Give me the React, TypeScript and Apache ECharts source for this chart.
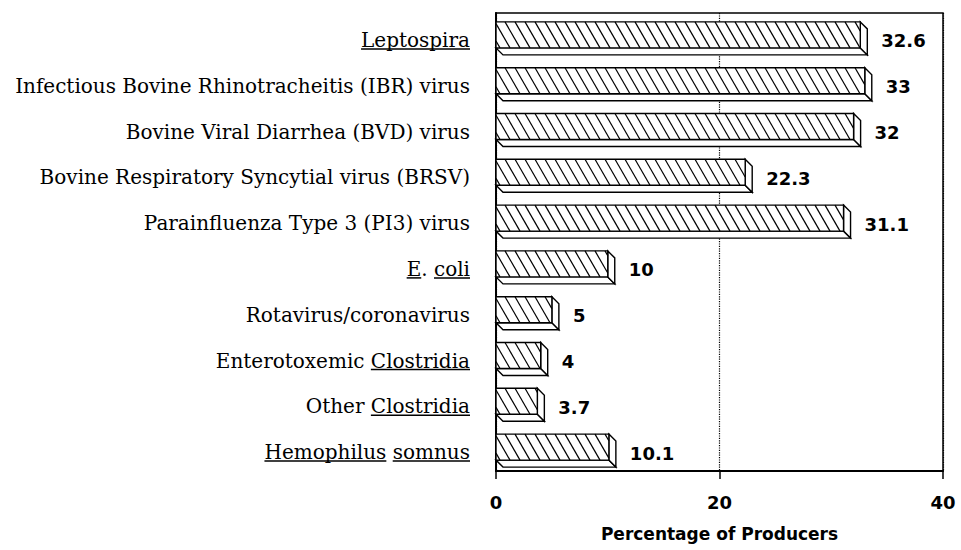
import React, { useEffect, useRef } from "react";
import * as echarts from "echarts";

const categories = [
  "Leptospira",
  "Infectious Bovine Rhinotracheitis (IBR) virus",
  "Bovine Viral Diarrhea (BVD) virus",
  "Bovine Respiratory Syncytial virus (BRSV)",
  "Parainfluenza Type 3 (PI3) virus",
  "E. coli",
  "Rotavirus/coronavirus",
  "Enterotoxemic Clostridia",
  "Other Clostridia",
  "Hemophilus somnus",
];
const values = [32.6, 33, 32, 22.3, 31.1, 10, 5, 4, 3.7, 10.1];
const underlinedWords: string[][] = [
  ["Leptospira"],
  [],
  [],
  [],
  [],
  ["E", "coli"],
  [],
  ["Clostridia"],
  ["Clostridia"],
  ["Hemophilus", "somnus"],
];
const xMin = 0;
const xMax = 40;
const xInterval = 20;
const xTitle = "Percentage of Producers";

const LABEL_FONT_SIZE = 20;
const LABEL_FONT_FAMILY = '"DejaVu Serif"';
const LABEL_MARGIN = 26;
const LABEL_SHIFT = 4;

let measureCtx: CanvasRenderingContext2D | null = null;
function measure(text: string): number {
  if (!measureCtx) {
    const c = document.createElement("canvas");
    measureCtx = c.getContext("2d");
  }
  if (!measureCtx) return text.length * LABEL_FONT_SIZE * 0.55;
  measureCtx.font = `${LABEL_FONT_SIZE}px ${LABEL_FONT_FAMILY}`;
  return measureCtx.measureText(text).width;
}

export default function App() {
  const ref = useRef<HTMLDivElement>(null);

  useEffect(() => {
    document.body.style.margin = "0";
    if (!ref.current) return;
    const chart = echarts.init(ref.current, undefined, { renderer: "svg" });

    const renderItem = (params: any, api: any) => {
      const v = api.value(0);
      const i = api.value(1);
      const p1 = api.coord([v, i]);
      const p0 = api.coord([0, i]);
      const x0 = p0[0];
      const x1 = p1[0];
      const c = p1[1];
      const yT = c - 14;
      const yB = c + 12;
      const dx = 7;
      const dy = 7;
      const h = yB - yT;
      const slope = 15;
      const spacing = 10;
      const stroke = { stroke: "#000", lineWidth: 1.4 };
      const children: any[] = [];
      children.push({
        type: "polygon",
        shape: { points: [[x0, yB], [x1, yB], [x1 + dx, yB + dy], [x0 + dx, yB + dy]] },
        style: { fill: "#fff", ...stroke },
      });
      children.push({
        type: "polygon",
        shape: { points: [[x1, yT], [x1 + dx, yT + dy], [x1 + dx, yB + dy], [x1, yB]] },
        style: { fill: "#fff", ...stroke },
      });
      children.push({
        type: "rect",
        shape: { x: x0, y: yT, width: x1 - x0, height: h },
        style: { fill: "#fff", stroke: "none" },
      });
      for (let s = x0 - slope + 4; s < x1; s += spacing) {
        let ax = s, ay = yT, bx = s + slope, by = yB;
        if (ax < x0) {
          ay = yT + ((x0 - ax) * h) / slope;
          ax = x0;
        }
        if (bx > x1) {
          by = yT + ((x1 - s) * h) / slope;
          bx = x1;
        }
        if (bx - ax < 0.5) continue;
        children.push({
          type: "line",
          shape: { x1: ax, y1: ay, x2: bx, y2: by },
          style: { stroke: "#000", lineWidth: 1.2 },
        });
      }
      children.push({
        type: "rect",
        shape: { x: x0, y: yT, width: x1 - x0, height: h },
        style: { fill: "none", ...stroke },
      });
      children.push({
        type: "text",
        x: x1 + dx + 14,
        y: c + 5,
        style: {
          text: String(v),
          fill: "#000",
          font: 'bold 18px "DejaVu Sans"',
          align: "left",
          verticalAlign: "middle",
        },
      });
      const label = categories[i];
      const words = underlinedWords[i] || [];
      if (words.length) {
        const right = x0 - LABEL_MARGIN;
        const start = right - measure(label);
        let from = 0;
        words.forEach((w) => {
          const idx = label.indexOf(w, from);
          if (idx < 0) return;
          from = idx + w.length;
          const ux = start + measure(label.slice(0, idx));
          const uw = measure(w);
          const uy = c + LABEL_SHIFT + 9;
          children.push({
            type: "line",
            shape: { x1: ux, y1: uy, x2: ux + uw, y2: uy },
            style: { stroke: "#000", lineWidth: 1.5 },
          });
        });
      }
      return { type: "group", children };
    };

    chart.setOption({
      animation: false,
      backgroundColor: "#fff",
      grid: {
        left: 496,
        right: 18,
        top: 13,
        bottom: 79,
        show: true,
        borderColor: "#000",
        borderWidth: 1.5,
        backgroundColor: "transparent",
      },
      xAxis: {
        type: "value",
        min: xMin,
        max: xMax,
        interval: xInterval,
        position: "bottom",
        axisLine: { show: true, onZero: false, lineStyle: { color: "#000", width: 2 } },
        axisTick: { show: true, length: 8, lineStyle: { color: "#000", width: 1.5 } },
        axisLabel: {
          margin: 22,
          color: "#000",
          fontFamily: '"DejaVu Sans"',
          fontWeight: "bold",
          fontSize: 18,
        },
        splitLine: { show: true, lineStyle: { type: "dotted", color: "#000", width: 1.2 } },
        name: xTitle,
        nameLocation: "middle",
        nameGap: 54,
        nameTextStyle: {
          color: "#000",
          fontFamily: '"DejaVu Sans"',
          fontWeight: "bold",
          fontSize: 17,
          verticalAlign: "top",
        },
      },
      yAxis: {
        type: "category",
        data: categories,
        inverse: true,
        axisLine: { show: true, lineStyle: { color: "#000", width: 2 } },
        axisTick: { show: false },
        splitLine: { show: false },
        axisLabel: {
          margin: LABEL_MARGIN,
          color: "#000",
          fontFamily: LABEL_FONT_FAMILY,
          fontSize: LABEL_FONT_SIZE,
          formatter: (val: string) => `{a|${val}}`,
          rich: {
            a: {
              color: "#000",
              fontFamily: LABEL_FONT_FAMILY,
              fontSize: LABEL_FONT_SIZE,
              padding: [LABEL_SHIFT * 2, 0, 0, 0],
            },
          },
        },
      },
      series: [
        {
          type: "custom",
          renderItem,
          clip: false,
          encode: { x: 0, y: 1 },
          data: values.map((v, i) => [v, i]),
        },
      ],
    });

    return () => {
      chart.dispose();
    };
  }, []);

  return <div ref={ref} style={{ width: 961, height: 550 }} />;
}
